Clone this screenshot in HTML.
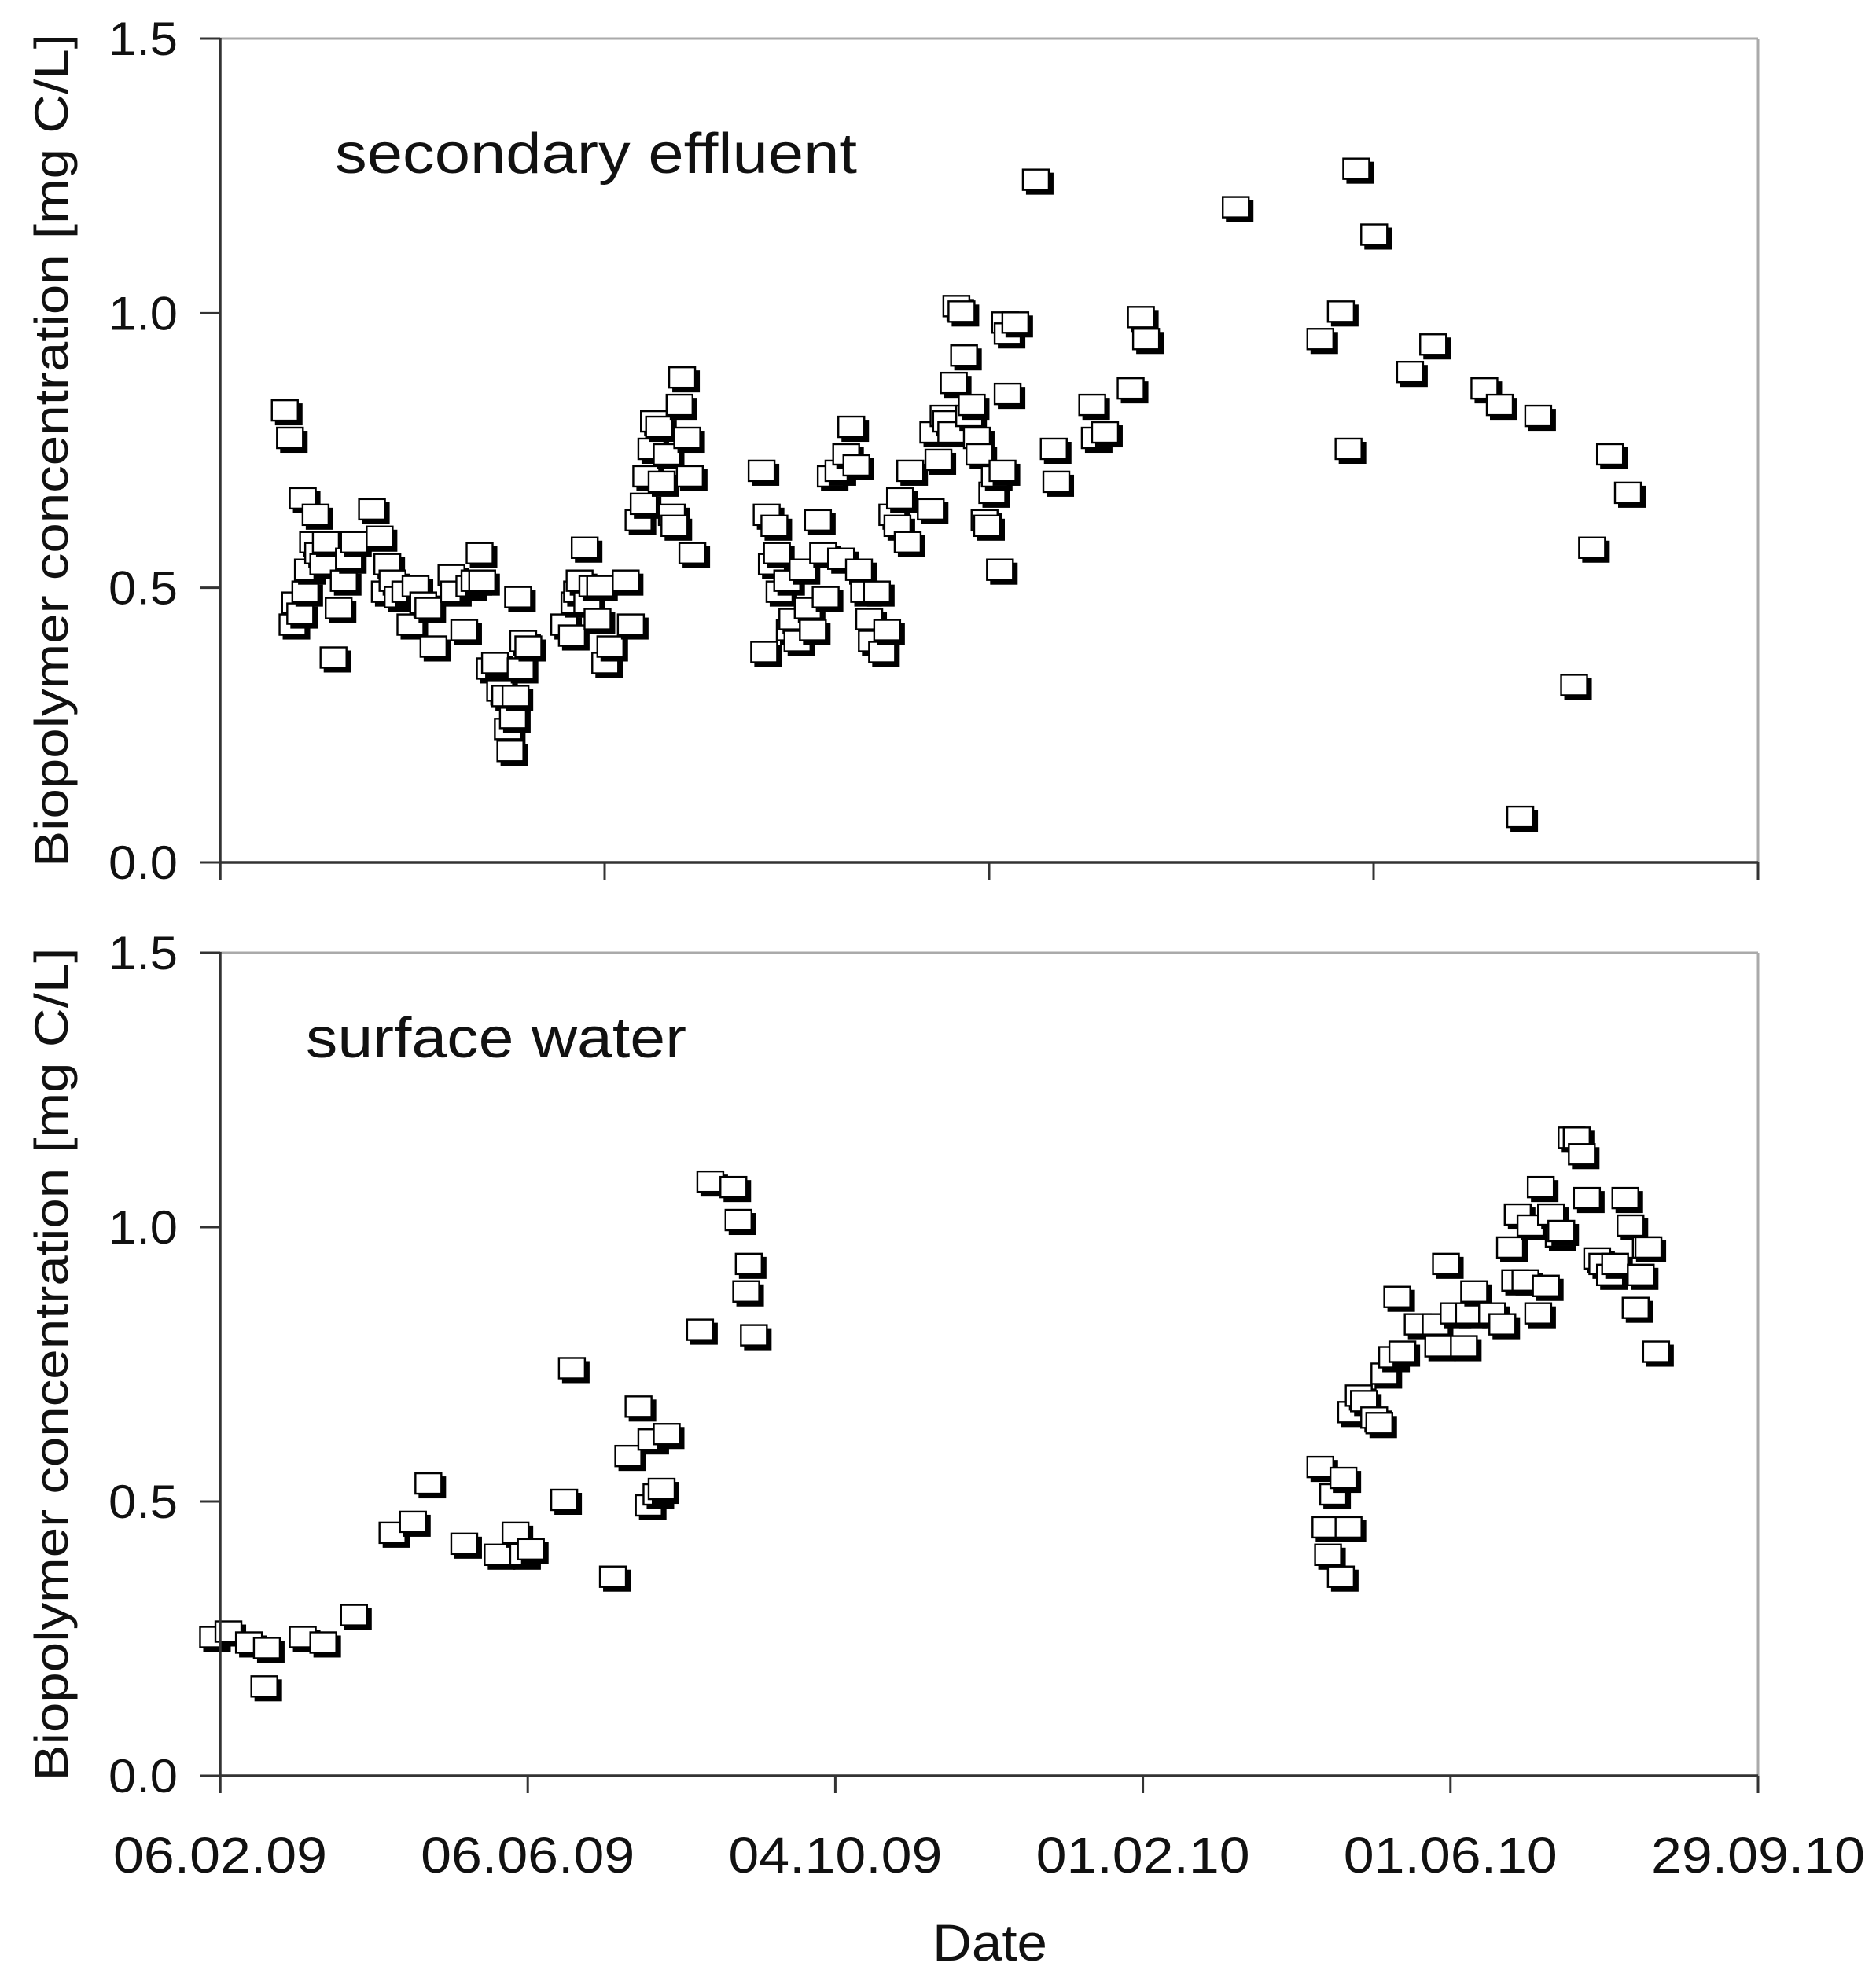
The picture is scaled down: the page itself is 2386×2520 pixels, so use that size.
<!DOCTYPE html>
<html><head><meta charset="utf-8"><style>
html,body{margin:0;padding:0;background:#fff;}
svg{display:block;font-family:"Liberation Sans",Arial,sans-serif;}
</style></head><body>
<svg id="chart" width="2386" height="2520" viewBox="0 0 2386 2520" xmlns="http://www.w3.org/2000/svg"></svg>
<script>
// top panel: secondary effluent (day since 06.02.09, mg C/L)
const seDays=[26,28,30,29,32,33,34,35,37,38,39,41,42,45,47,49,51,53,60,63,65,66,68,70,73,75,77,80,82,84,91,92,96,98,100,102,103,106,108,110,112,113,114,115,116,117,118,119,121,135,138,139,140,141,143,144,146,148,149,151,153,159,161,164,166,167,169,170,172,173,175,177,178,180,181,183,184,185,212,213,214,216,217,218,219,222,223,224,226,228,230,232,234,236,237,239,242,243,245,247,249,250,252,254,255,257,259,261,263,265,266,269,270,278,279,281,283,284,286,287,288,290,291,293,294,296,297,299,300,302,303,305,306,307,308,311,308,319,326,327,341,342,346,356,360,362,397,430,438,441,444,451,465,474,494,500,508,515,529,536,543,550];
const seVals=[0.82,0.77,0.47,0.43,0.45,0.66,0.49,0.53,0.58,0.63,0.56,0.54,0.58,0.37,0.46,0.51,0.55,0.58,0.64,0.59,0.49,0.54,0.51,0.48,0.49,0.43,0.50,0.47,0.46,0.39,0.52,0.49,0.42,0.50,0.51,0.56,0.51,0.35,0.36,0.31,0.30,0.24,0.20,0.26,0.30,0.48,0.35,0.40,0.39,0.43,0.41,0.47,0.49,0.51,0.57,0.47,0.50,0.44,0.50,0.36,0.39,0.51,0.43,0.62,0.65,0.70,0.75,0.80,0.79,0.69,0.74,0.63,0.61,0.83,0.88,0.77,0.70,0.56,0.71,0.38,0.63,0.54,0.61,0.56,0.49,0.51,0.42,0.44,0.40,0.53,0.46,0.42,0.62,0.56,0.48,0.70,0.71,0.55,0.74,0.79,0.72,0.53,0.49,0.44,0.40,0.49,0.38,0.42,0.63,0.61,0.66,0.58,0.71,0.64,0.78,0.73,0.81,0.80,0.78,0.87,1.01,1.00,0.92,0.81,0.83,0.77,0.74,0.62,0.61,0.67,0.70,0.53,0.71,0.98,0.96,0.98,0.85,1.24,0.75,0.69,0.83,0.77,0.78,0.86,0.99,0.95,1.19,0.95,1.00,0.75,1.26,1.14,0.89,0.94,0.86,0.83,0.08,0.81,0.32,0.57,0.74,0.67];
// bottom panel: surface water
const swDays=[-2,4,12,18,19,33,41,53,68,76,82,96,109,116,119,122,135,138,154,160,164,168,169,171,173,175,188,192,201,203,206,207,209,430,432,433,435,438,439,441,442,445,447,451,453,455,458,460,462,468,475,476,479,482,486,488,490,497,501,504,506,507,510,512,515,516,518,520,523,524,528,530,532,534,538,540,543,545,549,551,553,555,557,558,561];
const swVals=[0.25,0.26,0.24,0.16,0.23,0.25,0.24,0.29,0.44,0.46,0.53,0.42,0.40,0.44,0.40,0.41,0.50,0.74,0.36,0.58,0.67,0.49,0.61,0.51,0.52,0.62,0.81,1.08,1.07,1.01,0.88,0.93,0.80,0.56,0.45,0.40,0.51,0.36,0.54,0.45,0.66,0.69,0.68,0.65,0.64,0.73,0.76,0.87,0.77,0.82,0.82,0.78,0.93,0.84,0.78,0.84,0.88,0.84,0.82,0.96,0.90,1.02,0.90,1.00,0.84,1.07,0.89,1.02,0.98,0.99,1.16,1.16,1.13,1.05,0.94,0.93,0.91,0.93,1.05,1.00,0.85,0.91,0.96,0.96,0.77];
const yTicks=["0.0","0.5","1.0","1.5"];
const yTickVals=[0,0.5,1.0,1.5];
const topXTickDays=[0,150,300,450,600];
const botXTickDays=[0,120,240,360,480,600];
const botXLabels=["06.02.09","06.06.09","04.10.09","01.02.10","01.06.10","29.09.10"];

const NS="http://www.w3.org/2000/svg";
const svg=document.getElementById('chart');
function mk(tag,attrs,parent){const e=document.createElementNS(NS,tag);for(const k in attrs)e.setAttribute(k,attrs[k]);(parent||svg).appendChild(e);return e;}
const L=280,R=2236;
const xs=d=>L+(R-L)*d/600;

function panel(name,top,bot,days,vals,xticks,label,lx,ly,lw){
  const g=mk('g',{});
  
  
  const ys=v=>bot-(bot-top)*v/1.5;
  const fr1=mk('line',{x1:L,y1:top,x2:R,y2:top,stroke:'#aaa','stroke-width':3},g);
  
  
  const fr2=mk('line',{x1:R,y1:top,x2:R,y2:bot,stroke:'#aaa','stroke-width':3},g);
  
  
  yTickVals.forEach((v,i)=>{
    const t=mk('line',{x1:L-25,y1:ys(v),x2:L,y2:ys(v),stroke:'#333','stroke-width':3},g);
    
    
    const tx=mk('text',{x:226,y:ys(v)+21,'text-anchor':'end','font-size':60,fill:'#111',textLength:88,lengthAdjust:'spacingAndGlyphs'},g);
    tx.textContent=yTicks[i];
    
    
  });
  xticks.forEach(d=>{
    const t=mk('line',{x1:xs(d),y1:bot,x2:xs(d),y2:bot+22,stroke:'#333','stroke-width':3},g);
    
    
  });
  days.forEach((d,i)=>{
    const cx=xs(d),cy=ys(vals[i]);
    const m=mk('g',{},g);
    
    
    mk('rect',{x:cx-15,y:cy-11,width:35,height:28,fill:'#000'},m);
    mk('rect',{x:cx-19,y:cy-15,width:33,height:26,fill:'#fff',stroke:'#000','stroke-width':2.4},m);
  });
  const ax1=mk('line',{x1:L,y1:top-1,x2:L,y2:bot+22,stroke:'#333','stroke-width':3.5},g);
  
  
  const ax2=mk('line',{x1:L,y1:bot,x2:R,y2:bot,stroke:'#333','stroke-width':3.5},g);
  
  
  const lab=mk('text',{x:lx,y:ly,'font-size':72,fill:'#111',textLength:lw,lengthAdjust:'spacingAndGlyphs'},g);
  lab.textContent=label;
  
  
  const yt=mk('text',{x:0,y:0,'font-size':60,fill:'#111','text-anchor':'middle',textLength:1060,lengthAdjust:'spacingAndGlyphs',transform:`translate(86,${(top+bot)/2}) rotate(-90)`},g);
  yt.textContent='Biopolymer concentration [mg C/L]';
  
  
}
panel('secondary-effluent',49,1097,seDays,seVals,topXTickDays,'secondary effluent',426,220,664);
panel('surface-water',1212,2259,swDays,swVals,botXTickDays,'surface water',389,1345,484);
botXTickDays.forEach((d,i)=>{
  const t=mk('text',{x:xs(d),y:2382,'text-anchor':'middle','font-size':64,fill:'#111',textLength:272,lengthAdjust:'spacingAndGlyphs'});
  t.textContent=botXLabels[i];
  
  
});
const xt=mk('text',{x:1259,y:2494,'text-anchor':'middle','font-size':66,fill:'#111',textLength:146,lengthAdjust:'spacingAndGlyphs'});
xt.textContent='Date';


</script>
</body></html>
